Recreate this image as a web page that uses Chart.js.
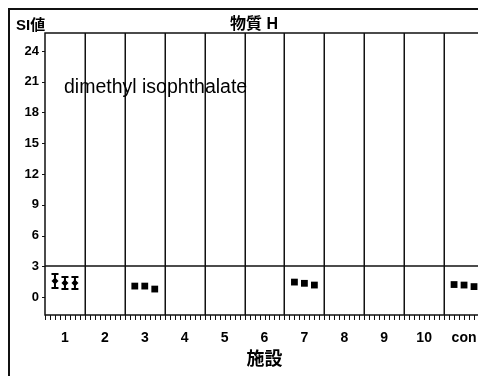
<!DOCTYPE html>
<html><head><meta charset="utf-8">
<script src="https://cdn.jsdelivr.net/npm/chart.js@4/dist/chart.umd.min.js"></script>
<style>
html,body{margin:0;padding:0;background:#fff;overflow:hidden;width:478px;height:376px}
#wrap{width:500px;height:376px}
</style></head>
<body><div id="wrap"><canvas id="c" width="500" height="376"></canvas></div>
<script>
// ---- data ----
const sites = ['1','2','3','4','5','6','7','8','9','10','con'];
const yTicks = [0,3,6,9,12,15,18,21,24];
const refLine = 3;
const rep1 = [1.56,null,1.07,null,null,null,1.46,null,null,null,1.22];
const rep2 = [1.37,null,1.07,null,null,null,1.34,null,null,null,1.17];
const rep3 = [1.37,null,0.78,null,null,null,1.17,null,null,null,1.02];
const rep1Low  = [0.88,null,null,null,null,null,null,null,null,null,null];
const rep1High = [2.24,null,null,null,null,null,null,null,null,null,null];
const rep2Low  = [0.78,null,null,null,null,null,null,null,null,null,null];
const rep2High = [1.95,null,null,null,null,null,null,null,null,null,null];
const rep3Low  = [0.78,null,null,null,null,null,null,null,null,null,null];
const rep3High = [1.95,null,null,null,null,null,null,null,null,null,null];
const compound = 'dimethyl isophthalate';
const chartTitle = '物質 H';
const yTitle = 'SI値';
const xTitle = '施設';

const FONT = '"Liberation Sans", "Noto Sans CJK JP", Arial, sans-serif';
const INK = '#111';

function build(vals, lo, hi, off){
  const out = [];
  vals.forEach((v,i)=>{ if(v!=null) out.push({x:i+1+off, y:v, lo:lo[i], hi:hi[i]}); });
  return out;
}
const series = [
  {vals:rep1, lo:rep1Low, hi:rep1High, off:-0.25},
  {vals:rep2, lo:rep2Low, hi:rep2High, off:0},
  {vals:rep3, lo:rep3Low, hi:rep3High, off:0.25}
];

const decor = {
  id:'decor',
  beforeDraw(chart){
    const ctx = chart.ctx, a = chart.chartArea, xs = chart.scales.x, ys = chart.scales.y;
    ctx.save();
    ctx.fillStyle = '#fff'; ctx.fillRect(0,0,chart.width,chart.height);
    ctx.strokeStyle = INK;
    // outer frame
    ctx.lineWidth = 2;
    ctx.beginPath(); ctx.moveTo(9, chart.height); ctx.lineTo(9,9); ctx.lineTo(chart.width,9); ctx.stroke();
    // separators
    ctx.lineWidth = 1.5;
    for(let i=1;i<sites.length;i++){
      const x = Math.round(xs.getPixelForValue(i+0.5))+0.25;
      ctx.beginPath(); ctx.moveTo(x,a.top); ctx.lineTo(x,a.bottom); ctx.stroke();
    }
    // reference line
    const yr = Math.round(ys.getPixelForValue(refLine));
    ctx.beginPath(); ctx.moveTo(a.left,yr); ctx.lineTo(a.right,yr); ctx.stroke();
    // plot border
    ctx.lineWidth = 1.5;
    ctx.beginPath(); ctx.moveTo(a.right+2,a.top); ctx.lineTo(a.left,a.top); ctx.lineTo(a.left,a.bottom); ctx.lineTo(a.right+2,a.bottom); ctx.stroke();
    // x minor ticks
    ctx.lineWidth = 1;
    for(let v=0.5; v<=sites.length+0.5+1e-9; v+=0.125){
      const x = Math.round(xs.getPixelForValue(v))+0.5;
      ctx.beginPath(); ctx.moveTo(x,a.bottom); ctx.lineTo(x,a.bottom+5); ctx.stroke();
    }
    // y ticks
    yTicks.forEach(v=>{
      const y = Math.round(ys.getPixelForValue(v))+0.5;
      ctx.beginPath(); ctx.moveTo(a.left,y); ctx.lineTo(a.left-3,y); ctx.stroke();
    });
    // titles
    ctx.fillStyle = '#000';
    ctx.textBaseline = 'middle';
    ctx.font = 'bold 15px ' + FONT;
    ctx.textAlign = 'left'; ctx.fillText(yTitle, 16, 26);
    ctx.font = 'bold 16px ' + FONT;
    ctx.textAlign = 'center'; ctx.fillText(chartTitle, 254, 25);
    ctx.font = 'bold 18px ' + FONT;
    ctx.fillText(xTitle, (a.left+a.right)/2, 360);
    ctx.font = '19.5px ' + FONT;
    ctx.textAlign = 'left'; ctx.textBaseline = 'alphabetic';
    ctx.fillText(compound, 64, 93);
    ctx.restore();
  },
  afterDatasetsDraw(chart){
    const ctx = chart.ctx, xs = chart.scales.x, ys = chart.scales.y;
    ctx.save();
    ctx.strokeStyle = '#000'; ctx.lineWidth = 2;
    chart.data.datasets.forEach(ds=>{
      ds.data.forEach(p=>{
        if(p.lo==null) return;
        const x = xs.getPixelForValue(p.x);
        const y1 = ys.getPixelForValue(p.lo), y2 = ys.getPixelForValue(p.hi);
        ctx.beginPath();
        ctx.moveTo(x,y1); ctx.lineTo(x,y2);
        ctx.moveTo(x-3.5,y1); ctx.lineTo(x+3.5,y1);
        ctx.moveTo(x-3.5,y2); ctx.lineTo(x+3.5,y2);
        ctx.stroke();
      });
    });
    ctx.restore();
  }
};

new Chart(document.getElementById('c'), {
  type:'scatter',
  data:{datasets: series.map(s=>({
    data: build(s.vals, s.lo, s.hi, s.off),
    pointStyle: ctx => (ctx.raw && ctx.raw.lo!=null) ? 'rectRot' : 'rect',
    pointRadius: ctx => (ctx.raw && ctx.raw.lo!=null) ? 3.5 : 4.8,
    backgroundColor:'#000', borderColor:'#000', borderWidth:0
  }))},
  options:{
    responsive:false, animation:false, devicePixelRatio:1,
    layout:{padding:{left:0, top:33, right:16, bottom:0}},
    plugins:{legend:{display:false}, tooltip:{enabled:false}},
    scales:{
      x:{type:'linear', min:0.5, max:sites.length+0.5,
        grid:{display:false, drawTicks:false}, border:{display:false},
        afterBuildTicks: s=>{ s.ticks = sites.map((_,i)=>({value:i+1})); },
        afterFit: s=>{ s.height = 61; },
        ticks:{autoSkip:false, maxRotation:0, padding:15, color:'#000',
          font:{family:FONT, size:14, weight:'bold'},
          callback: v => sites[v-1]}
      },
      y:{min:-1.75, max:25.75,
        grid:{display:false, drawTicks:false}, border:{display:false},
        afterBuildTicks: s=>{ s.ticks = yTicks.map(v=>({value:v})); },
        afterFit: s=>{ s.width = 45; },
        ticks:{padding:6, color:'#000', font:{family:FONT, size:13, weight:'bold'}}
      }
    }
  },
  plugins:[decor]
});
</script>
</body></html>
